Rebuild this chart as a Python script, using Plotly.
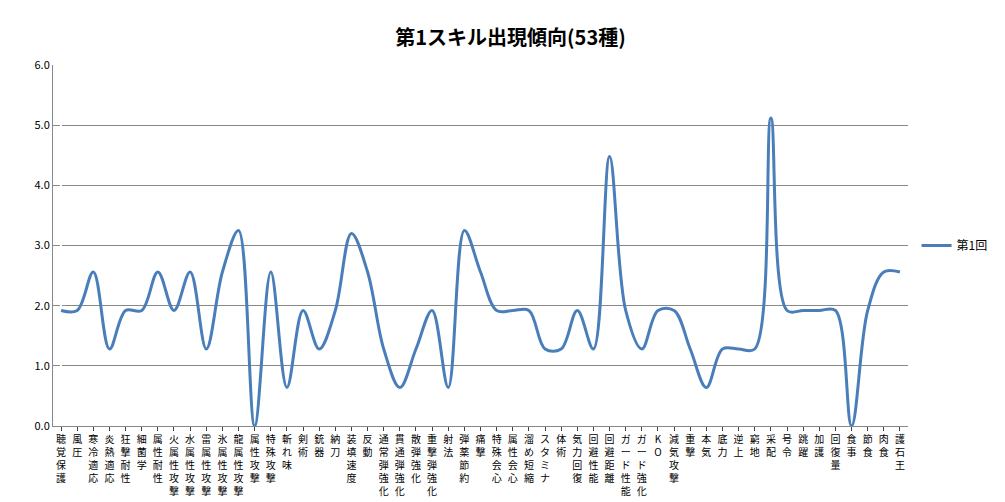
import plotly.graph_objects as go

skills = ["聴覚保護", "風圧", "寒冷適応", "炎熱適応", "狂撃耐性", "細菌学", "属性耐性",
          "火属性攻撃", "水属性攻撃", "雷属性攻撃", "氷属性攻撃", "龍属性攻撃", "属性攻撃",
          "特殊攻撃", "斬れ味", "剣術", "銃器", "納刀", "装填速度", "反動", "通常弾強化",
          "貫通弾強化", "散弾強化", "重撃弾強化", "射法", "弾薬節約", "痛撃", "特殊会心",
          "属性会心", "溜め短縮", "スタミナ", "体術", "気力回復", "回避性能", "回避距離",
          "ガード性能", "ガード強化", "KO", "減気攻撃", "重撃", "本気", "底力", "逆上",
          "窮地", "采配", "号令", "跳躍", "加護", "回復量", "食事", "節食", "肉食", "護石王"]
values = [1.92, 1.92, 2.56, 1.28, 1.92, 1.92, 2.56, 1.92, 2.56, 1.28, 2.56, 3.25, 0.0,
          2.56, 0.64, 1.92, 1.28, 1.92, 3.2, 2.56, 1.28, 0.64, 1.28, 1.92, 0.64, 3.25,
          2.56, 1.92, 1.92, 1.92, 1.28, 1.28, 1.92, 1.28, 4.48, 1.92, 1.28, 1.92, 1.92,
          1.28, 0.64, 1.28, 1.28, 1.28, 5.12, 1.92, 1.92, 1.92, 1.92, 0.0, 1.92, 2.56, 2.56]

# stack characters vertically like the original axis labels
tick_text = ["<br>".join(s) for s in skills]

fig = go.Figure(go.Scatter(
    x=list(range(len(skills))), y=values, mode="lines", name="第1回",
    line=dict(color="#4A7EBB", width=3, shape="spline", smoothing=1.0),
))

fig.update_layout(
    width=1005, height=502,
    title=dict(text="<b>第1スキル出現傾向(53種)</b>", x=0.5, y=0.955,
               font=dict(size=20, color="black", family="Noto Sans CJK JP")),
    font=dict(family="Noto Sans CJK JP", size=11, color="black"),
    paper_bgcolor="white", plot_bgcolor="white",
    margin=dict(l=45, r=105, t=57, b=84),
    legend=dict(x=1.01, y=0.5, yanchor="middle", font=dict(size=12)),
    showlegend=True,
)
fig.update_xaxes(tickvals=list(range(len(skills))), ticktext=tick_text, tickangle=0,
                 range=[-0.5, len(skills) - 0.5], showgrid=False,
                 showline=True, linecolor="#888888", ticks="outside", ticklen=4,
                 tickfont=dict(size=10))
fig.update_yaxes(range=[0, 6], dtick=1, tickformat=".1f", showgrid=True,
                 gridcolor="#888888", gridwidth=1, zeroline=False,
                 showline=True, linecolor="#888888", tickfont=dict(size=11))

fig.write_html("out.html")
